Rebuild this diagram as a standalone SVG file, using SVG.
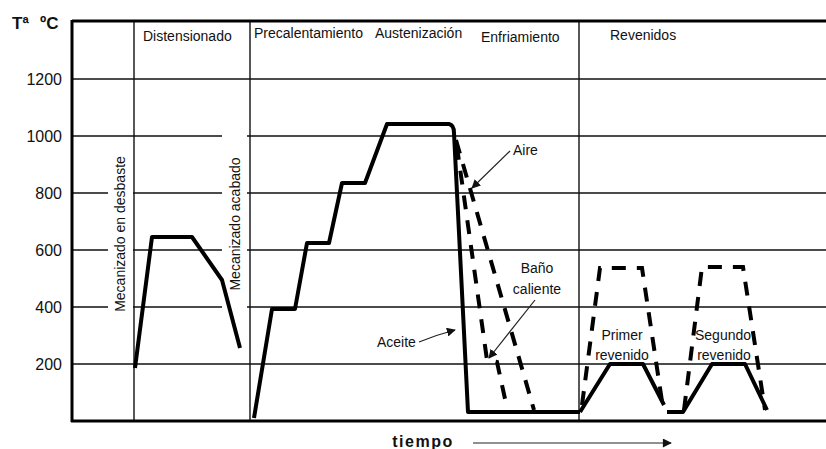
<svg xmlns="http://www.w3.org/2000/svg" width="826" height="449" viewBox="0 0 826 449">
  <style>
    text { font-family: "Liberation Sans", Arial, sans-serif; fill: #111; }
    .lbl { font-size: 14px; }
    .tick { font-size: 16px; text-anchor: end; }
    .grid { stroke: #111; stroke-width: 1.4; fill: none; }
    .axis { stroke: #000; stroke-width: 3; fill: none; }
    .curve { stroke: #000; stroke-width: 4; fill: none; stroke-linejoin: round; stroke-linecap: butt; }
    .dash { stroke: #000; stroke-width: 4; fill: none; stroke-dasharray: 14 11; stroke-linejoin: miter; }
    .lead { stroke: #222; stroke-width: 1.2; fill: none; }
  </style>
  <defs>
    <marker id="head" viewBox="0 0 10 10" refX="9" refY="5" markerWidth="9" markerHeight="9" markerUnits="userSpaceOnUse" orient="auto">
      <path d="M0,0 L10,5 L0,10 Z" fill="#111"/>
    </marker>
    <marker id="headBig" viewBox="0 0 10 10" refX="9" refY="5" markerWidth="11" markerHeight="9" markerUnits="userSpaceOnUse" orient="auto">
      <path d="M0,0 L10,5 L0,10 Z" fill="#111"/>
    </marker>
  </defs>

  <rect width="826" height="449" fill="#fff"/>

  <!-- grid: temperature lines (broken where the vertical captions sit) -->
  <g id="grid">
    <line class="grid" x1="72" y1="79" x2="826" y2="79"/>
    <path class="grid" d="M72,136 H222 M247,136 H826"/>
    <path class="grid" d="M72,193 H108 M133,193 H222 M247,193 H826"/>
    <path class="grid" d="M72,250 H108 M133,250 H222 M247,250 H826"/>
    <path class="grid" d="M72,307 H108 M133,307 H222 M247,307 H826"/>
    <line class="grid" x1="72" y1="364" x2="826" y2="364"/>
    <!-- stage separators -->
    <line class="grid" x1="134" y1="21" x2="134" y2="421"/>
    <line class="grid" x1="250" y1="21" x2="250" y2="421"/>
    <line class="grid" x1="579" y1="21" x2="579" y2="421"/>
  </g>

  <g id="axes">
    <line class="axis" x1="72" y1="21" x2="826" y2="21" stroke-width="2.6"/>
    <line class="axis" x1="72" y1="20" x2="72" y2="422"/>
    <line class="axis" x1="71" y1="421" x2="826" y2="421"/>
  </g>

  <g id="axis-labels">
    <text x="12" y="29" font-size="17" font-weight="bold">Tª</text>
    <text x="40" y="29" font-size="17" font-weight="bold">ºC</text>
    <text class="tick" x="62" y="85">1200</text>
    <text class="tick" x="62" y="142">1000</text>
    <text class="tick" x="62" y="199">800</text>
    <text class="tick" x="62" y="256">600</text>
    <text class="tick" x="62" y="313">400</text>
    <text class="tick" x="62" y="370">200</text>
    <text x="423" y="447" font-size="16" font-weight="bold" letter-spacing="1.5" text-anchor="middle">tiempo</text>
    <line class="lead" x1="473" y1="443" x2="671" y2="443" marker-end="url(#headBig)"/>
  </g>

  <g id="stage-headers">
    <text class="lbl" x="143" y="41">Distensionado</text>
    <text class="lbl" x="254" y="38">Precalentamiento</text>
    <text class="lbl" x="375" y="38">Austenización</text>
    <text class="lbl" x="481" y="42">Enfriamiento</text>
    <text class="lbl" x="610" y="40">Revenidos</text>
  </g>

  <g id="machining-labels">
    <text class="lbl" font-size="14.5" text-anchor="middle" transform="translate(125,234) rotate(-90)">Mecanizado en desbaste</text>
    <text class="lbl" font-size="14.5" text-anchor="middle" transform="translate(240,224) rotate(-90)">Mecanizado acabado</text>
  </g>

  <!-- thermal cycle -->
  <g id="cycle">
    <path id="distensionado" class="curve" d="M135,368 L152,237 L192,237 L222,280 L240,348"/>
    <path id="temple-aceite" class="curve" d="M254,418 L272,309 L295,309 L307,243 L329,243 L342,183 L365,183 L387,124 L449,124 Q454,125 454,133 L468,412 L580,412"/>
    <path id="aire" class="dash" d="M456,140 L534,410"/>
    <path id="bano-caliente" class="dash" stroke-dashoffset="-6" d="M456,140 L487,360 L497,362 L507,408"/>
    <path id="revenido-1" class="curve" d="M580,412 L610,364 L643,364 L664,405"/>
    <path id="revenido-2" class="curve" d="M667,412 L683,412 L712,364 L745,364 L767,410"/>
    <path id="revenido-1-alto" class="dash" d="M582,405 L600,268 L642,268 L663,408"/>
    <path id="revenido-2-alto" class="dash" d="M684,410 L702,267 L743,267 L765,410"/>
  </g>

  <!-- callouts -->
  <g id="connectors">
    <path class="lead" d="M510,151 L472,188" marker-end="url(#head)"/>
    <path class="lead" d="M535,300 L489,358" marker-end="url(#head)"/>
    <path class="lead" d="M419,342 Q436,335 455,330" marker-end="url(#head)"/>
  </g>

  <g id="callout-labels">
    <text class="lbl" x="513" y="155">Aire</text>
    <text class="lbl" x="537" y="273" text-anchor="middle">Baño</text>
    <text class="lbl" x="537" y="294" text-anchor="middle">caliente</text>
    <text class="lbl" x="377" y="347">Aceite</text>
    <text class="lbl" x="622" y="340" text-anchor="middle">Primer</text>
    <text class="lbl" x="622" y="360" text-anchor="middle">revenido</text>
    <text class="lbl" x="723" y="340" text-anchor="middle">Segundo</text>
    <text class="lbl" x="724" y="360" text-anchor="middle">revenido</text>
  </g>
</svg>
